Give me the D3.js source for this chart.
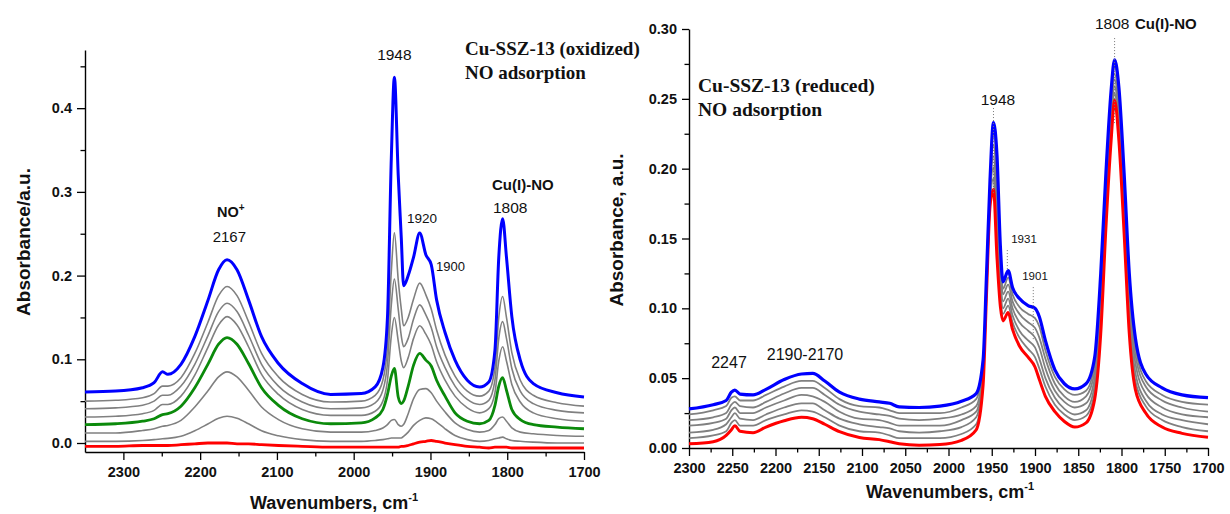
<!DOCTYPE html>
<html><head><meta charset="utf-8">
<script src="https://cdn.jsdelivr.net/npm/d3@7"></script>
<style>
body{margin:0;background:#fff}
svg{display:block}
</style>
</head><body>
<svg id="c" width="1230" height="514"></svg>
<script>
// ---------------- DATA ----------------
// Left panel: Cu-SSZ-13 (oxidized)
const leftWn = [2350,2310,2275,2260,2249,2242,2225,2207,2190,2176,2165,2152,2137,2120,2098,2067,2030,
  1990,1972,1962,1956,1951,1947,1942,1938,1935,1929,1922,1914,1906,1899,1892,1881,1868,1852,1836,1824,1816,1811,1806,1801,1794,1783,1766,1735,1700];
const leftBlue = [.061,.062,.066,.072,.085,.082,.094,.127,.170,.207,.219,.207,.171,.127,.095,.071,.058,
  .059,.067,.090,.150,.340,.437,.320,.245,.188,.200,.222,.251,.225,.213,.171,.132,.099,.075,.067,.073,.111,.222,.268,.222,.151,.099,.071,.060,.055];
const leftGray1 = [.050,.051,.054,.059,.068,.068,.078,.107,.144,.176,.187,.176,.145,.107,.079,.058,.049,
  .050,.057,.075,.115,.205,.251,.195,.160,.140,.150,.172,.191,.177,.160,.135,.105,.080,.062,.056,.062,.090,.150,.175,.150,.108,.075,.057,.048,.044];
const leftGray2 = [.041,.042,.045,.050,.057,.057,.068,.094,.128,.157,.167,.157,.129,.094,.068,.049,.041,
  .042,.048,.063,.095,.165,.196,.160,.128,.115,.125,.148,.165,.153,.138,.115,.090,.068,.052,.046,.051,.075,.125,.145,.125,.089,.062,.047,.039,.036];
const leftGray3 = [.031,.032,.035,.039,.046,.046,.056,.081,.114,.141,.151,.141,.115,.082,.058,.040,.033,
  .033,.038,.050,.075,.128,.150,.122,.098,.090,.102,.125,.140,.130,.117,.097,.075,.056,.042,.036,.041,.060,.098,.115,.098,.070,.049,.036,.029,.026];
const leftGreen = [.022,.023,.026,.029,.034,.035,.044,.066,.094,.118,.126,.118,.095,.066,.045,.029,.023,
  .024,.030,.040,.058,.080,.089,.055,.047,.050,.068,.093,.107,.099,.092,.075,.056,.036,.026,.023,.027,.045,.068,.078,.063,.040,.028,.022,.019,.017];
const leftGray5 = [.012,.012,.015,.017,.020,.021,.027,.043,.062,.079,.085,.079,.063,.043,.028,.017,.013,
  .013,.015,.018,.022,.027,.028,.022,.020,.022,.035,.053,.064,.065,.060,.050,.037,.024,.016,.013,.015,.022,.029,.031,.026,.018,.013,.011,.009,.008];
const leftGray6 = [.002,.002,.003,.004,.005,.0055,.008,.0146,.0227,.0296,.032,.0296,.023,.0146,.0086,.004,.002,
  .002,.003,.004,.005,.006,.006,.006,.006,.008,.013,.021,.027,.030,.029,.025,.017,.009,.004,.002,.003,.005,.006,.007,.005,.003,.002,.001,.000,.000];
const leftRed = [-.004,-.004,-.003,-.003,-.003,-.003,-.002,-.001,.000,.000,.000,-.001,-.001,-.002,-.003,-.004,-.005,
  -.005,-.005,-.005,-.005,-.005,-.005,-.005,-.004,-.004,-.003,-.001,.001,.002,.003,.002,.000,-.002,-.004,-.005,-.006,-.005,-.005,-.005,-.005,-.006,-.006,-.006,-.006,-.006];

// Right panel: Cu-SSZ-13 (reduced)
const rightWn = [2300,2272,2257,2251,2247,2241,2226,2211,2190,2170,2157,2143,2126,2103,2080,2068,2057,2034,2010,1985,
  1968,1960,1956,1952,1948,1944,1940,1937,1931,1926,1918,1908,1900,1895,1888,1877,1866,1854,1841,1831,
  1824,1818,1812,1808,1803,1797,1791,1784,1772,1753,1730,1700];
const rightBlue = [.028,.031,.034,.040,.0415,.0386,.038,.042,.049,.053,.0534,.048,.040,.035,.033,.032,.0295,.029,.030,.0335,
  .039,.063,.125,.192,.233,.210,.144,.119,.127,.115,.107,.102,.100,.094,.077,.056,.046,.0423,.046,.065,
  .125,.197,.256,.278,.258,.197,.125,.079,.053,.043,.038,.036];
const rightGray5 = [.024,.027,.030,.036,.037,.034,.034,.038,.044,.048,.048,.043,.035,.030,.029,.027,.025,.025,.025,.029,
  .035,.060,.123,.189,.225,.198,.137,.114,.122,.110,.101,.096,.093,.087,.070,.051,.042,.038,.041,.060,
  .118,.191,.250,.273,.252,.190,.118,.073,.048,.038,.033,.031];
const rightGray4 = [.020,.022,.025,.031,.033,.030,.029,.033,.039,.043,.043,.038,.031,.026,.024,.023,.021,.020,.021,.024,
  .030,.057,.120,.186,.217,.186,.130,.110,.117,.105,.096,.090,.086,.079,.064,.046,.037,.033,.037,.055,
  .111,.184,.244,.268,.245,.183,.111,.067,.044,.034,.029,.026];
const rightGray3 = [.016,.018,.021,.027,.029,.025,.025,.029,.034,.038,.037,.033,.026,.021,.020,.018,.016,.016,.016,.020,
  .026,.054,.118,.183,.209,.174,.123,.105,.112,.100,.090,.084,.079,.072,.057,.041,.033,.029,.032,.050,
  .104,.178,.238,.264,.239,.176,.104,.061,.039,.029,.024,.022];
const rightGray2 = [.011,.013,.017,.022,.025,.021,.020,.024,.029,.032,.032,.027,.021,.017,.015,.014,.012,.011,.012,.015,
  .022,.051,.116,.179,.201,.161,.115,.100,.107,.095,.084,.077,.072,.064,.050,.036,.028,.024,.027,.045,
  .096,.171,.232,.259,.233,.168,.096,.054,.034,.024,.020,.017];
const rightGray1 = [.007,.009,.012,.018,.020,.016,.016,.020,.024,.027,.026,.022,.016,.012,.011,.009,.007,.007,.007,.010,
  .017,.048,.113,.176,.193,.149,.108,.096,.102,.090,.079,.071,.065,.057,.044,.031,.024,.020,.023,.040,
  .089,.165,.226,.254,.226,.161,.089,.048,.030,.020,.015,.012];
const rightRed = [.003,.0045,.009,.013,.016,.012,.011,.015,.0195,.022,.021,.017,.0117,.0075,.006,.0045,.003,.002,.0025,.0055,
  .013,.045,.111,.173,.185,.137,.101,.091,.097,.085,.073,.065,.058,.049,.037,.026,.019,.015,.018,.035,
  .082,.158,.220,.249,.220,.154,.082,.042,.025,.015,.0105,.0077];

// Tick values
const leftXMajor = [2300,2200,2100,2000,1900,1800,1700];
const leftXMinor = [2250,2150,2050,1950,1850,1750];
const leftYMajor = [0.0,0.1,0.2,0.3,0.4];
const leftYMinor = [0.05,0.15,0.25,0.35,0.45];
const rightXMajor = [2300,2250,2200,2150,2100,2050,2000,1950,1900,1850,1800,1750,1700];
const rightXMinor = [2275,2225,2175,2125,2075,2025,1975,1925,1875,1825,1775,1725];
const rightYMajor = [0,0.05,0.10,0.15,0.20,0.25,0.30];
const rightYMinor = [0.025,0.075,0.125,0.175,0.225,0.275];

// ---------------- DRAWING ----------------
const SANS = '"Liberation Sans", Arial, Helvetica, sans-serif';
const SERIF = '"Liberation Serif", "Times New Roman", serif';
const BLUE = "#0000ff", GREEN = "#0b8a0b", RED = "#ff0000", GRAY = "#808080";
const svg = d3.select("#c");

function axes(g, x, y, xMaj, xMin, yMaj, yMin, yFmt, yTick) {
  const y0 = y.range()[0];
  g.append("g").attr("transform", `translate(0,${y0})`)
    .call(d3.axisBottom(x).tickValues(xMaj).tickSize(8).tickSizeOuter(0).tickPadding(7).tickFormat(d3.format("d")));
  const xm = g.append("g").attr("transform", `translate(0,${y0})`)
    .call(d3.axisBottom(x).tickValues(xMin).tickSize(4.5).tickFormat(""));
  xm.select(".domain").remove();
  const x0 = x.range()[0];
  g.append("g").attr("transform", `translate(${x0},0)`)
    .call(d3.axisLeft(y).tickValues(yMaj).tickSize(yTick).tickSizeOuter(0).tickPadding(5).tickFormat(d3.format(yFmt)));
  const ym = g.append("g").attr("transform", `translate(${x0},0)`)
    .call(d3.axisLeft(y).tickValues(yMin).tickSize(4.5).tickFormat(""));
  ym.select(".domain").remove();
  g.selectAll(".domain").attr("stroke", "#000").attr("stroke-width", 1.4);
  g.selectAll(".tick line").attr("stroke", "#000").attr("stroke-width", 1.3);
  g.selectAll(".tick text").attr("font-family", SANS).attr("font-weight", "bold")
    .attr("font-size", "14.5px").attr("fill", "#111");
}

function series(g, x, y, wn, vals, color, width) {
  const line = d3.line().x((d, i) => x(wn[i])).y(d => y(d)).curve(d3.curveMonotoneX);
  g.append("path").datum(vals).attr("d", line).attr("fill", "none")
    .attr("stroke", color).attr("stroke-width", width).attr("stroke-linejoin", "round");
}

function txt(g, x, y, s, size, opts = {}) {
  return g.append("text").attr("x", x).attr("y", y).text(s)
    .attr("font-family", opts.serif ? SERIF : SANS)
    .attr("font-weight", opts.bold ? "bold" : "normal")
    .attr("font-size", size + "px").attr("fill", "#111")
    .attr("text-anchor", opts.anchor || "start");
}

// ---- Left panel ----
const gL = svg.append("g");
const xL = d3.scaleLinear().domain([2350, 1700]).range([85, 584]);
const yL = d3.scaleLinear().domain([-0.01075, 0.4695]).range([452, 50]);
axes(gL, xL, yL, leftXMajor, leftXMinor, leftYMajor, leftYMinor, ".1f", 8);

[leftGray1, leftGray2, leftGray3, leftGray5, leftGray6].forEach(s => series(gL, xL, yL, leftWn, s, GRAY, 1.6));
series(gL, xL, yL, leftWn, leftGreen, GREEN, 2.8);
series(gL, xL, yL, leftWn, leftRed, RED, 2.8);
series(gL, xL, yL, leftWn, leftBlue, BLUE, 3);

const no = txt(gL, 217, 217, "NO", 14.5, {bold: true});
no.append("tspan").text("+").attr("font-size", "10px").attr("dy", -6);
txt(gL, xL(2162), 242, "2167", 15, {anchor: "middle"});
txt(gL, xL(1947), 60, "1948", 15.5, {anchor: "middle"});
txt(gL, xL(1911), 223, "1920", 13.5, {anchor: "middle"});
txt(gL, xL(1874), 271, "1900", 13, {anchor: "middle"});
txt(gL, 492, 190, "Cu(I)-NO", 15, {bold: true});
txt(gL, 493, 213, "1808", 15.5);
txt(gL, 465, 55, "Cu-SSZ-13 (oxidized)", 19, {bold: true, serif: true});
txt(gL, 465, 79, "NO adsorption", 19, {bold: true, serif: true});

const xlabL = txt(gL, 334, 509, "Wavenumbers, cm", 18, {bold: true, anchor: "middle"});
xlabL.append("tspan").text("-1").attr("font-size", "11px").attr("dy", -8);
gL.append("text").attr("transform", "translate(30,242) rotate(-90)")
  .attr("text-anchor", "middle").attr("font-family", SANS).attr("font-weight", "bold")
  .attr("font-size", "19px").attr("fill", "#111").text("Absorbance/a.u.");

// ---- Right panel ----
const gR = svg.append("g");
const xR = d3.scaleLinear().domain([2300, 1700]).range([689, 1208]);
const yR = d3.scaleLinear().domain([0, 0.30]).range([448, 29]);
axes(gR, xR, yR, rightXMajor, rightXMinor, rightYMajor, rightYMinor, ".2f", 7);

[rightGray1, rightGray2, rightGray3, rightGray4, rightGray5].forEach(s => series(gR, xR, yR, rightWn, s, GRAY, 1.8));
series(gR, xR, yR, rightWn, rightRed, RED, 3);
series(gR, xR, yR, rightWn, rightBlue, BLUE, 3.2);

function dotted(g, x, v1, v2) {
  g.append("line").attr("x1", x).attr("x2", x).attr("y1", yR(v1)).attr("y2", yR(v2))
    .attr("stroke", "#777").attr("stroke-width", 1).attr("stroke-dasharray", "1,2");
}
dotted(gR, xR(1948), 0.2434, 0.1825);
dotted(gR, xR(1808), 0.2935, 0.2326);
dotted(gR, xR(1932), 0.1417, 0.1274);
dotted(gR, xR(1902), 0.1152, 0.0773);

txt(gR, 998, 105, "1948", 15.5, {anchor: "middle"});
txt(gR, 1095, 29, "1808", 15.5);
txt(gR, 1135, 29, "Cu(I)-NO", 15, {bold: true});
txt(gR, 1024, 243, "1931", 11.5, {anchor: "middle"});
txt(gR, 1035, 280, "1901", 11.5, {anchor: "middle"});
txt(gR, 729, 368, "2247", 16, {anchor: "middle"});
txt(gR, 805, 360, "2190-2170", 16, {anchor: "middle"});
txt(gR, 698, 92, "Cu-SSZ-13 (reduced)", 19.5, {bold: true, serif: true});
txt(gR, 698, 116, "NO adsorption", 19.5, {bold: true, serif: true});

const xlabR = txt(gR, 950, 498, "Wavenumbers, cm", 18, {bold: true, anchor: "middle"});
xlabR.append("tspan").text("-1").attr("font-size", "11px").attr("dy", -8);
gR.append("text").attr("transform", "translate(623,230) rotate(-90)")
  .attr("text-anchor", "middle").attr("font-family", SANS).attr("font-weight", "bold")
  .attr("font-size", "19px").attr("fill", "#111").text("Absorbance, a.u.");
</script>
</body></html>
